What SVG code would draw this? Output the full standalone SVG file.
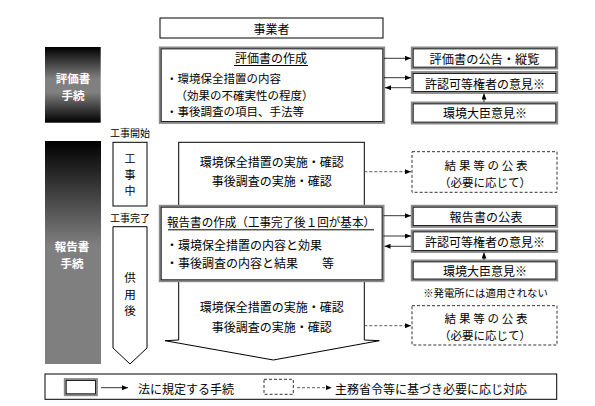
<svg xmlns="http://www.w3.org/2000/svg" width="595" height="406" viewBox="0 0 595 406">
<defs>
<linearGradient id="g1" x1="0" y1="0" x2="0" y2="1">
<stop offset="0" stop-color="#000"/>
<stop offset="0.42" stop-color="#808080"/>
<stop offset="0.6" stop-color="#808080"/>
<stop offset="1" stop-color="#000"/>
</linearGradient>
<linearGradient id="g2" x1="0" y1="0" x2="0" y2="1">
<stop offset="0" stop-color="#000"/>
<stop offset="0.47" stop-color="#7f7f7f"/>
<stop offset="1" stop-color="#7f7f7f"/>
</linearGradient>
<marker id="ah" markerUnits="userSpaceOnUse" markerWidth="6" markerHeight="5" refX="6" refY="2.5" orient="auto">
<path d="M0,0 L6,2.5 L0,5 z" fill="#000"/>
</marker>
</defs>
<style>
text{font-family:"Noto Sans CJK JP","Noto Sans CJK SC",sans-serif;font-size:12px;fill:#000}
.c{text-anchor:middle}
.w{fill:#fff;font-weight:bold;font-size:11.5px}
.s{font-size:10px}
.m{font-size:11.5px}
.plain{fill:#fff;stroke:#000;stroke-width:1}
.dblo{fill:#fff;stroke:#8a8a8a;stroke-width:2.4}
.dbli{fill:none;stroke:#111;stroke-width:0.9}
.dash{fill:#fff;stroke:#333;stroke-width:1;stroke-dasharray:3 2}
.ln{stroke:#000;stroke-width:0.8;fill:none}
.dl{stroke:#333;stroke-width:0.8;fill:none;stroke-dasharray:3 2}
.ul{stroke:#000;stroke-width:1}
</style>
<rect width="595" height="406" fill="#fff"/>

<g id="jigyosha">
<rect class="plain" x="160" y="18" width="223" height="20"/>
<text class="c" x="271.5" y="33.5">事業者</text>
</g>

<g id="hyokasho-tetsuzuki">
<rect x="45" y="47" width="55.7" height="75.7" fill="url(#g1)"/>
<text class="c w"><tspan x="73" y="82.5">評価書</tspan><tspan x="73" y="99.5">手続</tspan></text>
</g>

<g id="hyokasho-sakusei">
<rect class="dblo" x="160" y="47.7" width="224" height="75"/>
<rect class="dbli" x="161.2" y="48.9" width="221.6" height="72.6"/>
<text class="c" x="271" y="62.5">評価書の作成</text>
<line class="ul" x1="234" y1="65.5" x2="308" y2="65.5"/>
<text class="m"><tspan x="166" y="83">・環境保全措置の内容</tspan><tspan x="175.5" y="99.7">（効果の不確実性の程度）</tspan><tspan x="166" y="116.4">・事後調査の項目、手法等</tspan></text>
</g>

<g id="kokoku-jurann">
<rect class="dblo" x="412" y="47.7" width="145" height="20.6"/>
<rect class="dbli" x="413.2" y="48.9" width="142.6" height="18.2"/>
<text class="c" x="484.5" y="63.5" textLength="110" lengthAdjust="spacingAndGlyphs">評価書の公告・縦覧</text>
</g>

<g id="kyoninka-1">
<rect class="dblo" x="412" y="72.3" width="145" height="20.4"/>
<rect class="dbli" x="413.2" y="73.5" width="142.6" height="18"/>
<text class="c" x="485" y="88.5">許認可等権者の意見※</text>
</g>

<g id="daijin-1">
<rect class="dblo" x="412" y="102.7" width="145" height="20.6"/>
<rect class="dbli" x="413.2" y="103.9" width="142.6" height="18.2"/>
<text class="c" x="485" y="117.5">環境大臣意見※</text>
</g>

<g id="label-kaishi">
<text class="c s" x="130" y="136.5">工事開始</text>
</g>
<g id="label-kanryo">
<text class="c s" x="130" y="222">工事完了</text>
</g>

<g id="hokokusho-tetsuzuki">
<rect x="45" y="141" width="56" height="223" fill="url(#g2)"/>
<text class="c w"><tspan x="72" y="251">報告書</tspan><tspan x="72" y="268">手続</tspan></text>
</g>

<g id="kojichu">
<rect class="plain" x="113" y="142.3" width="34" height="63.7"/>
<text class="c" style="font-size:11px"><tspan x="130" y="162.5">工</tspan><tspan x="130" y="178.5">事</tspan><tspan x="130" y="194.5">中</tspan></text>
</g>

<g id="kyoyogo">
<path class="plain" d="M113,226.7 L147,226.7 L147,348 L130,364 L113,348 Z"/>
<text class="c m"><tspan x="130" y="282">供</tspan><tspan x="130" y="298.7">用</tspan><tspan x="130" y="315.4">後</tspan></text>
</g>

<g id="jisshi-1">
<rect class="plain" x="178.7" y="142.3" width="185.6" height="70"/>
<text class="c"><tspan x="271.7" y="167">環境保全措置の実施・確認</tspan><tspan x="271.7" y="186">事後調査の実施・確認</tspan></text>
</g>

<g id="jisshi-2">
<path class="plain" d="M178.7,275 L178.7,340 L165,340.7 L273.3,360 L379.3,340.7 L364.3,340 L364.3,275"/>
<text class="c"><tspan x="271.7" y="311.5">環境保全措置の実施・確認</tspan><tspan x="271.7" y="331.5">事後調査の実施・確認</tspan></text>
</g>

<g id="hokokusho-sakusei">
<rect class="dblo" x="160" y="206" width="223.3" height="75"/>
<rect class="dbli" x="161.2" y="207.2" width="220.9" height="72.6"/>
<text x="167" y="227" textLength="208" lengthAdjust="spacingAndGlyphs">報告書の作成（工事完了後１回が基本）</text>
<line class="ul" x1="168" y1="229.8" x2="374" y2="229.8"/>
<text><tspan x="166" y="250">・環境保全措置の内容と効果</tspan><tspan x="166" y="268">・事後調査の内容と結果　　等</tspan></text>
</g>

<g id="kekka-1">
<rect class="dash" x="412" y="151.7" width="145" height="40.6"/>
<text class="c m"><tspan x="487.5" y="170" letter-spacing="2.8">結果等の公表</tspan><tspan x="485" y="186.8">（必要に応じて）</tspan></text>
</g>

<g id="hokokusho-kohyo">
<rect class="dblo" x="412" y="206" width="145" height="20.7"/>
<rect class="dbli" x="413.2" y="207.2" width="142.6" height="18.3"/>
<text class="c" x="486" y="222" textLength="73" lengthAdjust="spacing">報告書の公表</text>
</g>

<g id="kyoninka-2">
<rect class="dblo" x="412" y="230.7" width="145" height="21"/>
<rect class="dbli" x="413.2" y="231.9" width="142.6" height="18.6"/>
<text class="c" x="485" y="246.5">許認可等権者の意見※</text>
</g>

<g id="daijin-2">
<rect class="dblo" x="412" y="260.7" width="145" height="19.5"/>
<rect class="dbli" x="413.2" y="261.9" width="142.6" height="17.1"/>
<text class="c" x="485" y="276">環境大臣意見※</text>
</g>

<g id="note">
<text class="c" x="485.5" y="297" style="font-size:10.4px">※発電所には適用されない</text>
</g>

<g id="kekka-2">
<rect class="dash" x="412" y="305.7" width="145" height="39.3"/>
<text class="c m"><tspan x="487.5" y="323" letter-spacing="2.8">結果等の公表</tspan><tspan x="485" y="339.8">（必要に応じて）</tspan></text>
</g>

<g id="connectors">
<line class="ln" x1="384" y1="58.3" x2="411" y2="58.3" marker-end="url(#ah)"/>
<line class="ln" x1="384" y1="77.7" x2="411" y2="77.7" marker-end="url(#ah)"/>
<line class="ln" x1="411" y1="87.7" x2="385" y2="87.7" marker-end="url(#ah)"/>
<line class="ln" x1="484" y1="102" x2="484" y2="93.5" marker-end="url(#ah)"/>
<line class="dl" x1="364.3" y1="171.7" x2="411" y2="171.7" marker-end="url(#ah)"/>
<line class="ln" x1="383.5" y1="215.7" x2="411" y2="215.7" marker-end="url(#ah)"/>
<line class="ln" x1="383.5" y1="236" x2="411" y2="236" marker-end="url(#ah)"/>
<line class="ln" x1="411" y1="246.3" x2="384.5" y2="246.3" marker-end="url(#ah)"/>
<line class="ln" x1="484" y1="260" x2="484" y2="252.5" marker-end="url(#ah)"/>
<line class="dl" x1="364.3" y1="325.7" x2="411" y2="325.7" marker-end="url(#ah)"/>
</g>

<g id="legend">
<rect class="plain" x="45" y="374" width="511.7" height="25.3"/>
<rect class="dblo" x="65" y="379.3" width="31.7" height="15.7"/>
<rect class="dbli" x="66.2" y="380.5" width="29.3" height="13.3"/>
<line class="ln" x1="101" y1="387.7" x2="128" y2="387.7" marker-end="url(#ah)"/>
<text x="138" y="393.5">法に規定する手続</text>
<rect class="dash" x="264" y="379.3" width="29.3" height="15"/>
<line class="dl" x1="297" y1="387.7" x2="331.7" y2="387.7" marker-end="url(#ah)"/>
<text x="335" y="393.5">主務省令等に基づき必要に応じ対応</text>
</g>
</svg>
